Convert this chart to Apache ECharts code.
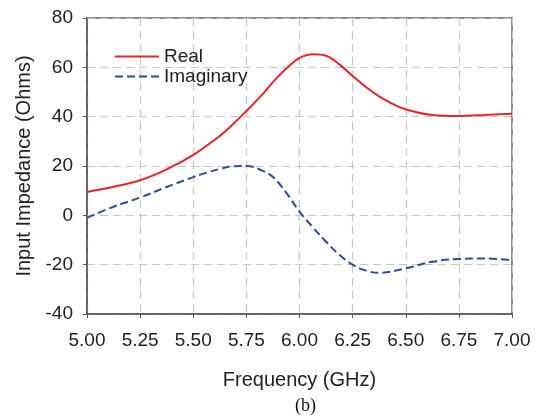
<!DOCTYPE html>
<html>
<head>
<meta charset="utf-8">
<script src="https://cdn.jsdelivr.net/npm/echarts@6/dist/echarts.min.js"></script>
<style>html,body{margin:0;padding:0;background:#fff;}#chart{width:535px;height:418px;}</style>
</head>
<body>
<div id="chart"></div>
<script>
var realFreq = [5.000, 5.125, 5.250, 5.375, 5.500, 5.625, 5.6875, 5.750, 5.8125, 5.875, 5.9375, 6.000, 6.0625, 6.125, 6.1875, 6.250, 6.3125, 6.375, 6.4375, 6.500, 6.625, 6.750, 6.875, 7.000];
var realValues = [9.5, 11.6, 14.2, 18.6, 24.5, 32.2, 37.0, 42.3, 47.8, 54.0, 59.5, 63.8, 65.3, 64.7, 61.2, 56.5, 52.0, 48.2, 45.2, 43.0, 40.7, 40.3, 40.7, 41.2];
var imagFreq = [5.000, 5.125, 5.250, 5.375, 5.500, 5.5625, 5.625, 5.6875, 5.750, 5.8125, 5.875, 5.9375, 6.000, 6.0625, 6.125, 6.1875, 6.250, 6.3125, 6.375, 6.500, 6.625, 6.750, 6.875, 7.000];
var imagValues = [-1.0, 3.5, 7.2, 11.5, 15.5, 17.3, 18.8, 19.9, 20.0, 18.6, 15.5, 9.2, 1.5, -4.8, -10.7, -16.0, -20.0, -22.4, -23.3, -21.5, -18.8, -17.7, -17.5, -18.2];
var xTicks = {min: 5, max: 7, interval: 0.25};
var yTicks = {min: -40, max: 80, interval: 20};

function pairs(xs, ys) { return xs.map(function (x, i) { return [x, ys[i]]; }); }

var chart = echarts.init(document.getElementById('chart'), null, {renderer: 'canvas'});
var font = 'Liberation Sans, Arial, sans-serif';
var gridLine = {show: true, lineStyle: {color: '#c6c6c6', type: [8, 5], width: 1.2}};
chart.setOption({
  animation: false,
  backgroundColor: '#fff',
  grid: {left: 87, top: 18, right: 23, bottom: 104, show: true, borderColor: '#666', borderWidth: 1.5, backgroundColor: 'transparent'},
  legend: {
    left: 109, top: 42, orient: 'vertical', itemWidth: 44, itemHeight: 14, itemGap: 1,
    itemStyle: {opacity: 0},
    textStyle: {fontFamily: font, fontSize: 19, color: '#222'},
    data: ['Real', 'Imaginary']
  },
  title: {
    text: '(b)', left: 290, top: 392,
    textStyle: {fontFamily: 'Liberation Serif, Times New Roman, serif', fontSize: 18, fontWeight: 'normal', color: '#111'}
  },
  xAxis: {
    type: 'value', min: xTicks.min, max: xTicks.max, interval: xTicks.interval,
    name: 'Frequency (GHz)', nameLocation: 'middle', nameGap: 56,
    nameTextStyle: {fontFamily: font, fontSize: 20, color: '#222'},
    axisLine: {show: true, onZero: false, lineStyle: {color: '#555', width: 1.5}},
    axisTick: {show: true, inside: false, length: 4, lineStyle: {color: '#555'}},
    axisLabel: {margin: 17, fontFamily: font, fontSize: 19, color: '#222', formatter: function (v) { return v.toFixed(2); }},
    splitLine: gridLine
  },
  yAxis: {
    type: 'value', min: yTicks.min, max: yTicks.max, interval: yTicks.interval,
    name: 'Input Impedance (Ohms)', nameLocation: 'middle', nameGap: 53,
    nameTextStyle: {fontFamily: font, fontSize: 20, color: '#222'},
    axisLine: {show: true, onZero: false, lineStyle: {color: '#555', width: 1.5}},
    axisTick: {show: true, inside: false, length: 4, lineStyle: {color: '#555'}},
    axisLabel: {margin: 14, fontFamily: font, fontSize: 19, color: '#222'},
    splitLine: gridLine
  },
  series: [
    {name: 'Real', type: 'line', data: pairs(realFreq, realValues), smooth: 0.4, symbol: 'none',
     lineStyle: {color: '#e3262c', width: 2}, itemStyle: {color: '#e3262c'}},
    {name: 'Imaginary', type: 'line', data: pairs(imagFreq, imagValues), smooth: 0.4, symbol: 'none',
     lineStyle: {color: '#2f4b99', width: 2, type: [8, 4]}, itemStyle: {color: '#2f4b99'}}
  ]
});
</script>
</body>
</html>
